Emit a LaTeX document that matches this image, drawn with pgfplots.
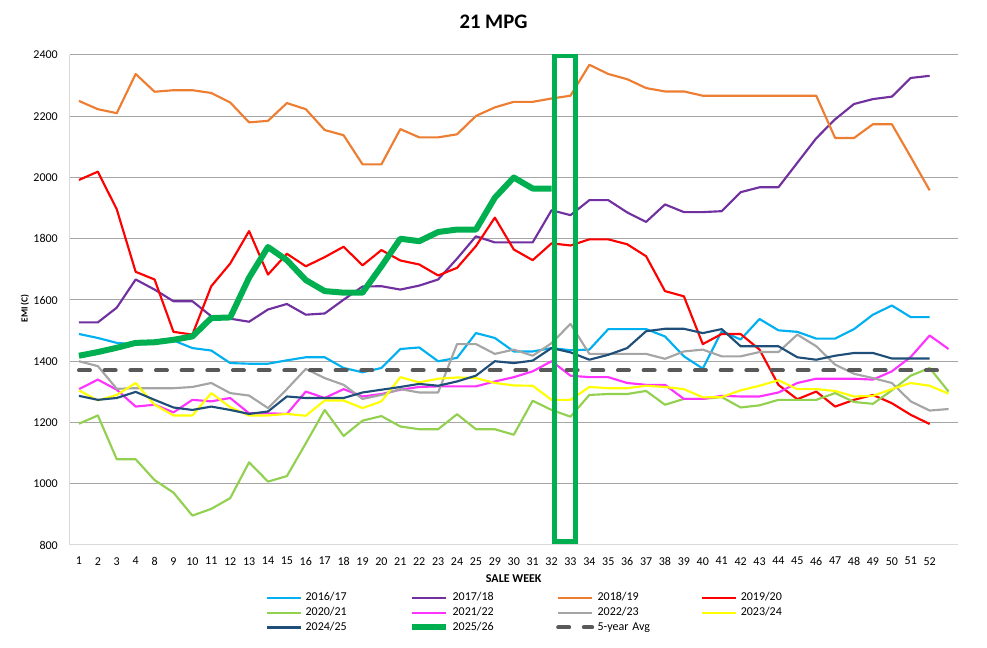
\documentclass[border=0pt]{standalone}
\usepackage{fontspec}
\setmainfont{Carlito}
\usepackage{pgfplots}
\pgfplotsset{compat=1.18}
\definecolor{cA}{HTML}{00B0F0}
\definecolor{cB}{HTML}{7030A0}
\definecolor{cC}{HTML}{ED7D31}
\definecolor{cD}{HTML}{FF0000}
\definecolor{cE}{HTML}{92D050}
\definecolor{cF}{HTML}{FF33FF}
\definecolor{cG}{HTML}{A5A5A5}
\definecolor{cH}{HTML}{FFFF00}
\definecolor{cI}{HTML}{1F4E79}
\definecolor{cJ}{HTML}{00B050}
\definecolor{cK}{HTML}{595959}
\definecolor{gridgray}{HTML}{A6A6A6}
\definecolor{axgray}{HTML}{D9D9D9}
\begin{document}
\begin{tikzpicture}
\path[use as bounding box] (-52.125pt,-77.25pt) rectangle (688.125pt,408.75pt);
\begin{axis}[
  at={(0pt,0pt)}, anchor=south west,
  scale only axis, width=666.375pt, height=367.5pt,
  xmin=-0.5, xmax=46.5, ymin=800, ymax=2400,
  clip=false,
  xtick={0,...,45},
  xticklabels={1,2,3,4,8,9,10,11,12,13,14,15,16,17,18,19,20,21,22,23,24,25,29,30,31,32,33,34,35,36,37,38,39,40,41,42,43,44,45,46,47,48,49,50,51,52},
  ytick={800,1000,...,2400},
  ymajorgrids, grid style={color=gridgray, line width=0.75pt},
  axis x line*=bottom, axis y line*=left,
  axis line style={color=axgray, line width=0.75pt, -},
  major tick length=0pt,
  tick label style={font=\fontsize{9}{11}\selectfont},
  /pgf/number format/assume math mode=true,
  /pgf/number format/1000 sep={},
  yticklabel style={anchor=east, inner sep=0pt, xshift=-8.6pt},
  xticklabel style={anchor=north, inner sep=0pt, yshift=-9pt},
  xlabel={SALE WEEK},
  xlabel style={at={(axis description cs:0.5,-0.0694)}, anchor=center, inner sep=0pt, font=\fontsize{9}{11}\selectfont\bfseries},
  ylabel={EMI (C)},
  ylabel style={at={(axis description cs:-0.0501,0.4826)}, anchor=center, inner sep=0pt, rotate=0, font=\fontsize{7}{9}\selectfont\bfseries},
  title={21 MPG},
  title style={at={(axis description cs:0.4772,1.0510)}, anchor=center, inner sep=0pt, font=\fontsize{15.5}{18}\selectfont\bfseries},
  every axis plot/.append style={line join=round},
  legend columns=4,
  legend image code/.code={\draw[#1] (0pt,0pt) -- (25.5pt,0pt);},
  legend style={draw=none, fill=none, inner sep=0pt, outer sep=0pt,
    at={(axis description cs:0.2212,-0.0976)}, anchor=north west,
    font=\fontsize{9}{11}\selectfont, row sep=3pt,
    nodes={inner sep=0pt, text height=6pt, text depth=2pt, text width=60pt, align=left},
    /tikz/every odd column/.append style={column sep=2.6pt},
    /tikz/every even column/.append style={column sep=17.65pt}},
]
\addplot[color=cA, line width=1.6pt] coordinates {(0,1489) (1,1476) (2,1460) (3,1455) (4,1457) (5,1468) (6,1443) (7,1435) (8,1394) (9,1392) (10,1392) (11,1403) (12,1413) (13,1413) (14,1378) (15,1364) (16,1378) (17,1440) (18,1445) (19,1400) (20,1411) (21,1492) (22,1476) (23,1432) (24,1432) (25,1443) (26,1436) (27,1438) (28,1505) (29,1505) (30,1505) (31,1481) (32,1416) (33,1376) (34,1498) (35,1471) (36,1538) (37,1501) (38,1496) (39,1474) (40,1474) (41,1505) (42,1552) (43,1582) (44,1544) (45,1544)};
\addlegendentry{2016/17}
\addplot[color=cB, line width=1.6pt] coordinates {(0,1527) (1,1527) (2,1575) (3,1667) (4,1634) (5,1596) (6,1596) (7,1547) (8,1539) (9,1529) (10,1569) (11,1587) (12,1552) (13,1556) (14,1601) (15,1644) (16,1645) (17,1634) (18,1647) (19,1667) (20,1735) (21,1808) (22,1788) (23,1788) (24,1788) (25,1893) (26,1877) (27,1926) (28,1926) (29,1886) (30,1855) (31,1912) (32,1887) (33,1887) (34,1890) (35,1952) (36,1968) (37,1968) (38,2048) (39,2128) (40,2190) (41,2240) (42,2256) (43,2264) (44,2325) (45,2332)};
\addlegendentry{2017/18}
\addplot[color=cC, line width=1.6pt] coordinates {(0,2250) (1,2223) (2,2210) (3,2338) (4,2280) (5,2285) (6,2285) (7,2276) (8,2245) (9,2180) (10,2185) (11,2243) (12,2223) (13,2155) (14,2138) (15,2043) (16,2043) (17,2158) (18,2131) (19,2131) (20,2141) (21,2201) (22,2229) (23,2247) (24,2247) (25,2258) (26,2267) (27,2368) (28,2338) (29,2321) (30,2292) (31,2281) (32,2281) (33,2267) (34,2267) (35,2267) (36,2267) (37,2267) (38,2267) (39,2267) (40,2129) (41,2129) (42,2174) (43,2174) (44,2067) (45,1958)};
\addlegendentry{2018/19}
\addplot[color=cD, line width=1.6pt] coordinates {(0,1992) (1,2019) (2,1896) (3,1692) (4,1667) (5,1496) (6,1487) (7,1645) (8,1719) (9,1825) (10,1683) (11,1751) (12,1710) (13,1740) (14,1774) (15,1713) (16,1763) (17,1729) (18,1716) (19,1680) (20,1705) (21,1776) (22,1869) (23,1765) (24,1730) (25,1785) (26,1778) (27,1798) (28,1798) (29,1782) (30,1743) (31,1629) (32,1612) (33,1456) (34,1489) (35,1489) (36,1438) (37,1323) (38,1276) (39,1301) (40,1252) (41,1274) (42,1290) (43,1263) (44,1225) (45,1195)};
\addlegendentry{2019/20}
\addplot[color=cE, line width=1.6pt] coordinates {(0,1196) (1,1223) (2,1080) (3,1080) (4,1012) (5,971) (6,896) (7,918) (8,953) (9,1070) (10,1007) (11,1025) (12,1132) (13,1241) (14,1156) (15,1206) (16,1221) (17,1187) (18,1178) (19,1178) (20,1227) (21,1178) (22,1178) (23,1160) (24,1271) (25,1241) (26,1219) (27,1290) (28,1293) (29,1293) (30,1303) (31,1258) (32,1277) (33,1277) (34,1283) (35,1249) (36,1256) (37,1274) (38,1274) (39,1274) (40,1296) (41,1267) (42,1261) (43,1305) (44,1353) (45,1378) (46,1301)};
\addlegendentry{2020/21}
\addplot[color=cF, line width=1.6pt] coordinates {(0,1309) (1,1340) (2,1307) (3,1252) (4,1258) (5,1233) (6,1274) (7,1269) (8,1280) (9,1230) (10,1230) (11,1228) (12,1301) (13,1280) (14,1309) (15,1285) (16,1293) (17,1307) (18,1316) (19,1318) (20,1318) (21,1318) (22,1334) (23,1348) (24,1367) (25,1400) (26,1353) (27,1348) (28,1348) (29,1329) (30,1323) (31,1323) (32,1277) (33,1277) (34,1287) (35,1285) (36,1285) (37,1298) (38,1329) (39,1343) (40,1343) (41,1343) (42,1340) (43,1367) (44,1414) (45,1484) (46,1440)};
\addlegendentry{2021/22}
\addplot[color=cG, line width=1.6pt] coordinates {(0,1400) (1,1384) (2,1310) (3,1312) (4,1312) (5,1312) (6,1316) (7,1329) (8,1296) (9,1288) (10,1247) (11,1309) (12,1375) (13,1345) (14,1323) (15,1277) (16,1290) (17,1309) (18,1298) (19,1298) (20,1456) (21,1456) (22,1424) (23,1438) (24,1418) (25,1459) (26,1522) (27,1424) (28,1424) (29,1424) (30,1424) (31,1408) (32,1432) (33,1438) (34,1416) (35,1416) (36,1430) (37,1430) (38,1487) (39,1449) (40,1389) (41,1359) (42,1345) (43,1329) (44,1269) (45,1239) (46,1244)};
\addlegendentry{2022/23}
\addplot[color=cH, line width=1.6pt] coordinates {(0,1305) (1,1272) (2,1290) (3,1329) (4,1258) (5,1223) (6,1223) (7,1296) (8,1250) (9,1223) (10,1223) (11,1228) (12,1222) (13,1272) (14,1272) (15,1247) (16,1269) (17,1348) (18,1331) (19,1343) (20,1347) (21,1345) (22,1329) (23,1321) (24,1320) (25,1274) (26,1274) (27,1316) (28,1312) (29,1312) (30,1320) (31,1316) (32,1309) (33,1282) (34,1283) (35,1305) (36,1320) (37,1338) (38,1309) (39,1309) (40,1303) (41,1285) (42,1287) (43,1309) (44,1329) (45,1320) (46,1294)};
\addlegendentry{2023/24}
\addplot[color=cI, line width=1.6pt] coordinates {(0,1287) (1,1274) (2,1280) (3,1300) (4,1274) (5,1249) (6,1241) (7,1252) (8,1241) (9,1228) (10,1236) (11,1285) (12,1280) (13,1280) (14,1280) (15,1298) (16,1307) (17,1316) (18,1326) (19,1320) (20,1334) (21,1353) (22,1400) (23,1394) (24,1402) (25,1443) (26,1429) (27,1405) (28,1421) (29,1443) (30,1498) (31,1506) (32,1506) (33,1492) (34,1505) (35,1449) (36,1449) (37,1449) (38,1413) (39,1405) (40,1418) (41,1427) (42,1427) (43,1409) (44,1409) (45,1409)};
\addlegendentry{2024/25}
\addplot[color=cJ, line width=4.5pt] coordinates {(0,1418) (1,1430) (2,1444) (3,1460) (4,1462) (5,1470) (6,1481) (7,1541) (8,1543) (9,1673) (10,1773) (11,1730) (12,1665) (13,1629) (14,1624) (15,1624) (16,1710) (17,1800) (18,1792) (19,1822) (20,1830) (21,1830) (22,1934) (23,2000) (24,1964) (25,1964)};
\addlegendentry{2025/26}
\addplot[color=cK, line width=3pt, line cap=round, dash pattern=on 8.25pt off 11pt] coordinates {(0,1370) (1,1370) (2,1370) (3,1370) (4,1370) (5,1370) (6,1370) (7,1370) (8,1370) (9,1370) (10,1370) (11,1370) (12,1370) (13,1370) (14,1370) (15,1370) (16,1370) (17,1370) (18,1370) (19,1370) (20,1370) (21,1370) (22,1370) (23,1370) (24,1370) (25,1370) (26,1370) (27,1370) (28,1370) (29,1370) (30,1370) (31,1370) (32,1370) (33,1370) (34,1370) (35,1370) (36,1370) (37,1370) (38,1370) (39,1370) (40,1370) (41,1370) (42,1370) (43,1370) (44,1370) (45,1370) (46,1370)};
\addlegendentry{5-year Avg}
\draw[color=cJ, line width=3.5pt] (axis cs:25.14,2397) rectangle (axis cs:26.26,811);
\end{axis}
\end{tikzpicture}
\end{document}
